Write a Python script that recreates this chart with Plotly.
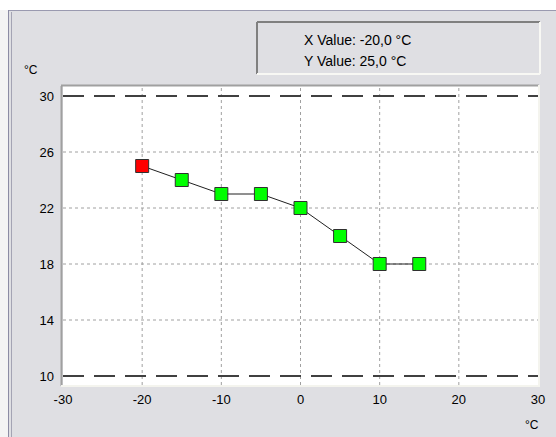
import plotly.graph_objects as go

# ---- data ----
x_vals = [-20, -15, -10, -5, 0, 5, 10, 15]
y_vals = [25, 24, 23, 23, 22, 20, 18, 18]
selected_index = 0
x_ticks = [-30, -20, -10, 0, 10, 20, 30]
y_ticks = [10, 14, 18, 22, 26, 30]
x_grid = [-20, -10, 0, 10, 20]
y_grid = [14, 18, 22, 26]
limit_lines = [10, 30]
unit = "°C"

W, H = 556, 437
L, R, T, B = 63, 538, 86, 385  # plot area in pixels
PW, PH = R - L, B - T


def px(v):
    return (v - L) / PW


def py(v):
    return (B - v) / PH


BG = "#dfdfe3"
colors = ["#ff0000" if i == selected_index else "#00ff00" for i in range(len(x_vals))]

fig = go.Figure()
fig.add_trace(go.Scatter(
    x=x_vals, y=y_vals, mode="lines+markers",
    line=dict(color="#202020", width=1),
    marker=dict(symbol="square", size=13, color=colors,
                line=dict(color="#303030", width=1)),
    showlegend=False, hoverinfo="skip",
))

shapes = []
# white strips outside the dialog panel
shapes.append(dict(type="rect", xref="paper", yref="paper", x0=px(0), x1=px(8), y0=py(437), y1=py(0),
                   fillcolor="#f4f4f4", line_width=0, layer="below"))
shapes.append(dict(type="rect", xref="paper", yref="paper", x0=px(0), x1=px(556), y0=py(10), y1=py(0),
                   fillcolor="#ffffff", line_width=0, layer="below"))
# dialog frame lines
shapes.append(dict(type="line", xref="paper", yref="paper", x0=px(8), x1=px(556), y0=py(10.5), y1=py(10.5),
                   line=dict(color="#9a9ab0", width=1)))
shapes.append(dict(type="line", xref="paper", yref="paper", x0=px(8.5), x1=px(8.5), y0=py(10), y1=py(437),
                   line=dict(color="#8c8ca4", width=1)))
shapes.append(dict(type="line", xref="paper", yref="paper", x0=px(11.5), x1=px(11.5), y0=py(12), y1=py(437),
                   line=dict(color="#a4a4b4", width=1)))
# grid lines
for gx in x_grid:
    shapes.append(dict(type="line", xref="x", yref="paper", x0=gx, x1=gx, y0=0, y1=1,
                       line=dict(color="#a0a0a0", width=1, dash="3px,3px"), layer="below"))
for gy in y_grid:
    shapes.append(dict(type="line", xref="paper", yref="y", x0=0, x1=1, y0=gy, y1=gy,
                       line=dict(color="#a0a0a0", width=1, dash="3px,3px"), layer="below"))
# limit lines
for ly in limit_lines:
    shapes.append(dict(type="line", xref="paper", yref="y", x0=0, x1=1, y0=ly, y1=ly,
                       line=dict(color="#404040", width=2, dash="21px,10px"), layer="below"))
# plot border (sunken)
shapes.append(dict(type="line", xref="paper", yref="paper", x0=px(61.5), x1=px(61.5), y0=py(86), y1=py(386),
                   line=dict(color="#a0a0a0", width=2)))
shapes.append(dict(type="line", xref="paper", yref="paper", x0=px(61), x1=px(539), y0=py(85.5), y1=py(85.5),
                   line=dict(color="#a0a0a0", width=2)))
shapes.append(dict(type="line", xref="paper", yref="paper", x0=px(539), x1=px(539), y0=py(85), y1=py(386),
                   line=dict(color="#f4f4ee", width=2)))
shapes.append(dict(type="line", xref="paper", yref="paper", x0=px(61), x1=px(540), y0=py(386), y1=py(386),
                   line=dict(color="#f4f4ee", width=2)))
# value box (sunken)
bx0, bx1, by0, by1 = 257, 540, 22, 74
shapes.append(dict(type="line", xref="paper", yref="paper", x0=px(bx0), x1=px(bx1), y0=py(by0), y1=py(by0),
                   line=dict(color="#808080", width=2)))
shapes.append(dict(type="line", xref="paper", yref="paper", x0=px(bx0), x1=px(bx0), y0=py(by0), y1=py(by1),
                   line=dict(color="#808080", width=2)))
shapes.append(dict(type="line", xref="paper", yref="paper", x0=px(bx1), x1=px(bx1), y0=py(by0), y1=py(by1),
                   line=dict(color="#f8f8f4", width=2)))
shapes.append(dict(type="line", xref="paper", yref="paper", x0=px(bx0), x1=px(bx1), y0=py(by1), y1=py(by1),
                   line=dict(color="#f8f8f4", width=2)))


def fmt(v):
    return f"{v:.1f}".replace(".", ",")


FAM = "Liberation Sans, Arial, sans-serif"
font = dict(family=FAM, size=13, color="#000000")
box_font = dict(family=FAM, size=14, color="#000000")
unit_font = dict(family=FAM, size=12, color="#000000")
annotations = [
    dict(text=f"X Value: {fmt(x_vals[selected_index])} {unit}", xref="paper", yref="paper",
         x=px(302), y=py(40), xanchor="left", yanchor="middle", showarrow=False, font=box_font),
    dict(text=f"Y Value: {fmt(y_vals[selected_index])} {unit}", xref="paper", yref="paper",
         x=px(302), y=py(61), xanchor="left", yanchor="middle", showarrow=False, font=box_font),
    dict(text=unit, xref="paper", yref="paper", x=px(31), y=py(70), xanchor="center", yanchor="middle",
         showarrow=False, font=unit_font),
    dict(text=unit, xref="paper", yref="paper", x=px(532), y=py(425), xanchor="center", yanchor="middle",
         showarrow=False, font=unit_font),
]

fig.update_layout(
    width=W, height=H,
    margin=dict(l=L, r=W - R, t=T, b=H - B, pad=0),
    paper_bgcolor=BG, plot_bgcolor="#ffffff",
    font=font,
    shapes=shapes, annotations=annotations,
    showlegend=False,
)
fig.update_xaxes(range=[-30, 30], tickvals=x_ticks, ticktext=[str(v) for v in x_ticks],
                 showgrid=False, zeroline=False, showline=False,
                 ticks="", ticklabelstandoff=5, fixedrange=True)
fig.update_yaxes(range=[10 - 9 / 14, 30 + 10 / 14], tickvals=y_ticks, ticktext=[str(v) for v in y_ticks],
                 showgrid=False, zeroline=False,
                 showline=False, ticks="", ticklabelstandoff=8, fixedrange=True)

fig.write_html(
    "out.html",
    config={"displayModeBar": False},
    post_script="document.body.style.margin='0';document.body.style.overflow='hidden';",
)
